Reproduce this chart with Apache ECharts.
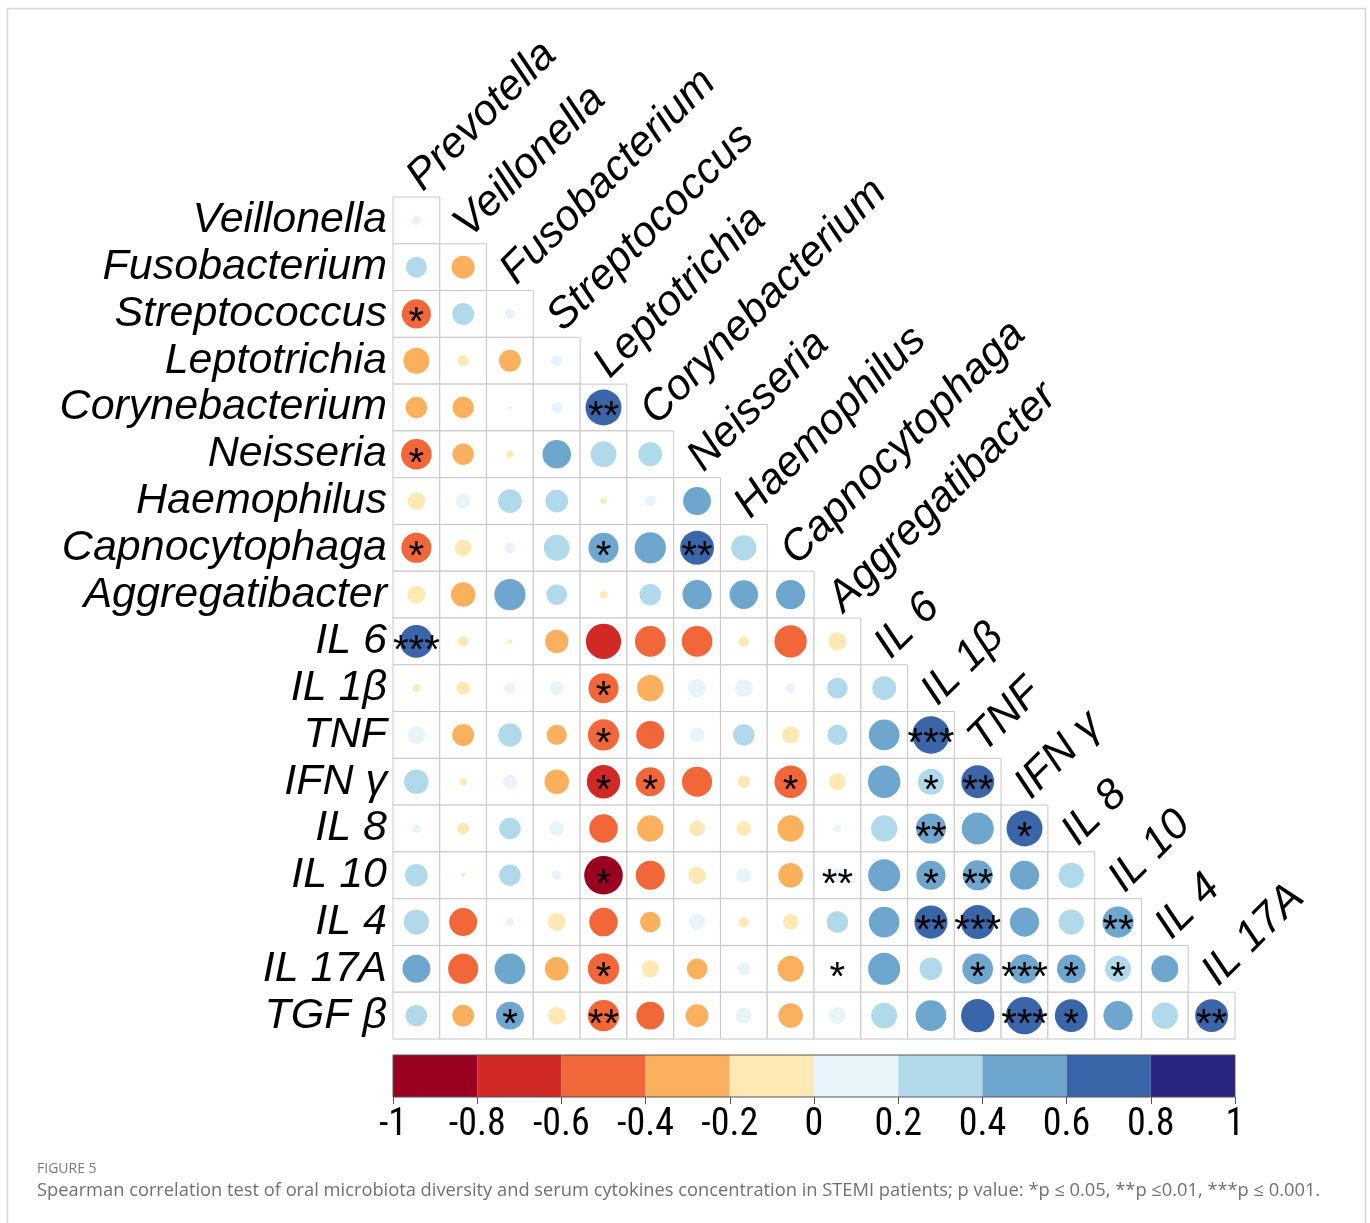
<!DOCTYPE html>
<html>
<head>
<meta charset="utf-8">
<title>Spearman correlation matrix</title>
<script src="https://cdn.jsdelivr.net/npm/echarts@6/dist/echarts.min.js"></script>
<style>
  html, body { margin: 0; padding: 0; background: #ffffff; }
  #chart { width: 1370px; height: 1223px; }
</style>
</head>
<body>
<div id="chart"></div>
<script>
// Row variables (lower triangle) and column variables
const rowNames = ['Veillonella', 'Fusobacterium', 'Streptococcus', 'Leptotrichia', 'Corynebacterium',
  'Neisseria', 'Haemophilus', 'Capnocytophaga', 'Aggregatibacter', 'IL 6', 'IL 1β', 'TNF',
  'IFN γ', 'IL 8', 'IL 10', 'IL 4', 'IL 17A', 'TGF β'];
const colNames = ['Prevotella', 'Veillonella', 'Fusobacterium', 'Streptococcus', 'Leptotrichia',
  'Corynebacterium', 'Neisseria', 'Haemophilus', 'Capnocytophaga', 'Aggregatibacter', 'IL 6',
  'IL 1β', 'TNF', 'IFN γ', 'IL 8', 'IL 10', 'IL 4', 'IL 17A'];

// Spearman r, one list per row (columns 0..row)
const rValues = [
  [0.05],
  [0.25, -0.30],
  [-0.48, 0.27, 0.06],
  [-0.38, -0.07, -0.27, 0.07],
  [-0.26, -0.26, 0.01, 0.07, 0.73],
  [-0.53, -0.26, -0.03, 0.46, 0.38, 0.32],
  [-0.18, 0.12, 0.32, 0.29, -0.02, 0.07, 0.44],
  [-0.51, -0.16, 0.07, 0.38, 0.51, 0.55, 0.65, 0.36],
  [-0.18, -0.34, 0.55, 0.24, -0.03, 0.26, 0.48, 0.46, 0.48],
  [0.61, -0.06, -0.01, -0.31, -0.70, -0.53, -0.53, -0.06, -0.59, -0.19],
  [-0.03, -0.10, 0.07, 0.11, -0.51, -0.39, 0.19, 0.18, 0.05, 0.24, 0.32],
  [0.18, -0.27, 0.31, -0.23, -0.55, -0.44, 0.12, 0.26, -0.17, 0.23, 0.53, 0.79],
  [0.34, -0.03, 0.11, -0.34, -0.63, -0.48, -0.51, -0.09, -0.59, -0.16, 0.59, 0.38, 0.61],
  [0.04, -0.08, 0.26, 0.12, -0.46, -0.39, -0.14, -0.12, -0.39, 0.03, 0.39, 0.51, 0.58, 0.73],
  [0.29, -0.01, 0.26, 0.05, -0.84, -0.48, -0.17, 0.12, -0.34, 0.11, 0.58, 0.48, 0.51, 0.48, 0.36],
  [0.36, -0.44, 0.04, -0.18, -0.46, -0.24, 0.15, -0.06, -0.14, 0.26, 0.53, 0.62, 0.65, 0.48, 0.36, 0.55],
  [0.44, -0.51, 0.53, -0.32, -0.55, -0.17, -0.24, 0.10, -0.38, 0.06, 0.58, 0.29, 0.53, 0.48, 0.46, 0.38, 0.41],
  [0.26, -0.27, 0.44, -0.18, -0.55, -0.44, -0.29, 0.14, -0.34, 0.16, 0.38, 0.53, 0.63, 0.79, 0.61, 0.48, 0.39, 0.61]
];

// Significant pairs: [row, column, number of stars]
const sigCells = [
  [2, 0, 1], [4, 4, 2], [5, 0, 1], [7, 0, 1], [7, 4, 1], [7, 6, 2], [9, 0, 3],
  [10, 4, 1], [11, 4, 1], [11, 11, 3], [12, 4, 1], [12, 5, 1], [12, 8, 1], [12, 11, 1],
  [12, 12, 2], [13, 11, 2], [13, 13, 1], [14, 4, 1], [14, 9, 2], [14, 11, 1], [14, 12, 2],
  [15, 11, 2], [15, 12, 3], [15, 15, 2], [16, 4, 1], [16, 9, 1], [16, 12, 1], [16, 13, 3],
  [16, 14, 1], [16, 15, 1], [17, 2, 1], [17, 4, 2], [17, 13, 3], [17, 14, 1], [17, 17, 2]
];

// Colour scale: ten bins of width 0.2 from -1 to 1
const binEdges = [-1, -0.8, -0.6, -0.4, -0.2, 0, 0.2, 0.4, 0.6, 0.8, 1];
const binColors = ['#9A0020', '#D12A26', '#F26739', '#FBB05E', '#FEE8B3',
  '#E7F4F9', '#B0DAE9', '#6EA6CD', '#3B65A9', '#27257F'];

const LABEL_FONT = 'Liberation Sans';
const TICK_FONT = 'Roboto Condensed';
const CAPTION_FONT = 'Open Sans';

function colorFor(r) {
  for (let k = 0; k < binColors.length; k++) {
    if (r <= binEdges[k + 1]) return binColors[k];
  }
  return binColors[binColors.length - 1];
}

// Flatten the lower triangle into [col, row, r]
const cellData = [];
rValues.forEach((row, i) => row.forEach((r, j) => cellData.push([j, i, r])));

const starData = sigCells.map(s => [s[1], s[0], '*'.repeat(s[2])]);
const diagData = colNames.map((name, j) => [j, j, name]);
const barData = binColors.map((c, k) => [binEdges[k], binEdges[k + 1], k]);

const chart = echarts.init(document.getElementById('chart'), null, { renderer: 'canvas' });

const option = {
  backgroundColor: '#ffffff',
  animation: false,
  grid: [
    { left: 393, top: 197, width: 842, height: 842 },
    { left: 393, top: 1055, width: 842, height: 42 }
  ],
  xAxis: [
    {
      gridIndex: 0, type: 'category', data: colNames, show: false
    },
    {
      gridIndex: 1, type: 'value', min: -1, max: 1, interval: 0.2,
      position: 'bottom',
      axisLine: { show: false },
      axisTick: { show: true, length: 7, lineStyle: { color: '#555', width: 1 } },
      splitLine: { show: false },
      axisLabel: {
        margin: 9, fontSize: 38, color: '#000', fontFamily: TICK_FONT,
        formatter: v => String(Math.round(v * 10) / 10)
      }
    }
  ],
  yAxis: [
    {
      gridIndex: 0, type: 'category', data: rowNames, inverse: true,
      axisLine: { show: false }, axisTick: { show: false }, splitLine: { show: false },
      axisLabel: {
        interval: 0, margin: 6, fontSize: 43, fontStyle: 'italic', color: '#000',
        fontFamily: LABEL_FONT
      }
    },
    { gridIndex: 1, type: 'value', min: 0, max: 1, show: false }
  ],
  series: [
    {
      // cell frames of the lower triangle
      type: 'custom', xAxisIndex: 0, yAxisIndex: 0, clip: false, z: 1,
      data: cellData,
      renderItem: (params, api) => {
        const c = api.coord([api.value(0), api.value(1)]);
        const s = api.size([1, 1]);
        return {
          type: 'rect',
          shape: { x: c[0] - s[0] / 2, y: c[1] - s[1] / 2, width: s[0], height: s[1] },
          style: { fill: '#ffffff', stroke: '#c6c6c6', lineWidth: 1 }
        };
      }
    },
    {
      // circles: area proportional to |r|
      type: 'custom', xAxisIndex: 0, yAxisIndex: 0, clip: false, z: 2,
      data: cellData,
      renderItem: (params, api) => {
        const r = api.value(2);
        const c = api.coord([api.value(0), api.value(1)]);
        const s = api.size([1, 1]);
        return {
          type: 'circle',
          shape: { cx: c[0], cy: c[1], r: 0.45 * Math.sqrt(Math.abs(r)) * s[0] },
          style: { fill: colorFor(r) }
        };
      }
    },
    {
      // significance stars
      type: 'custom', xAxisIndex: 0, yAxisIndex: 0, clip: false, z: 3,
      data: starData,
      renderItem: (params, api) => {
        const item = starData[params.dataIndex];
        const c = api.coord([item[0], item[1]]);
        const s = api.size([1, 1]);
        return {
          type: 'text',
          x: c[0], y: c[1] + s[1] * 0.22,
          style: {
            text: item[2], fontSize: 40, fontFamily: LABEL_FONT, fill: '#000',
            align: 'center', verticalAlign: 'middle'
          }
        };
      }
    },
    {
      // column names, rotated, sitting on top of each diagonal cell
      type: 'custom', xAxisIndex: 0, yAxisIndex: 0, clip: false, z: 3,
      data: diagData,
      renderItem: (params, api) => {
        const item = diagData[params.dataIndex];
        const c = api.coord([item[0], item[1]]);
        const s = api.size([1, 1]);
        return {
          type: 'text',
          x: c[0] + s[0] * 0.28, y: c[1] - s[1] * 0.46,
          rotation: Math.PI / 4,
          style: {
            text: item[2], fontSize: 43, fontStyle: 'italic', fontFamily: LABEL_FONT,
            fill: '#000', align: 'left', verticalAlign: 'bottom'
          }
        };
      }
    },
    {
      // colour bar
      type: 'custom', xAxisIndex: 1, yAxisIndex: 1, clip: false, z: 2,
      data: barData,
      renderItem: (params, api) => {
        const p0 = api.coord([api.value(0), 1]);
        const p1 = api.coord([api.value(1), 0]);
        return {
          type: 'rect',
          shape: { x: p0[0], y: p0[1], width: p1[0] - p0[0], height: p1[1] - p0[1] },
          style: { fill: binColors[api.value(2)], stroke: null }
        };
      }
    },
    {
      // colour bar outline
      type: 'custom', xAxisIndex: 1, yAxisIndex: 1, clip: false, z: 3,
      data: [[-1, 1]],
      renderItem: (params, api) => {
        const p0 = api.coord([-1, 1]);
        const p1 = api.coord([1, 0]);
        return {
          type: 'rect',
          shape: { x: p0[0], y: p0[1], width: p1[0] - p0[0], height: p1[1] - p0[1] },
          style: { fill: null, stroke: '#555', lineWidth: 1 }
        };
      }
    }
  ],
  graphic: [
    {
      type: 'rect', z: 0, silent: true,
      shape: { x: 7.5, y: 8.5, width: 1358, height: 1240 },
      style: { fill: null, stroke: '#d6d6d6', lineWidth: 1.5 }
    },
    {
      type: 'text', left: 37, top: 1162,
      style: { text: 'FIGURE 5', fontSize: 14, fontFamily: CAPTION_FONT, fill: '#7a7a7a' }
    },
    {
      type: 'text', left: 37, top: 1182,
      style: {
        text: 'Spearman correlation test of oral microbiota diversity and serum cytokines concentration in STEMI patients; p value: *p ≤ 0.05, **p ≤0.01, ***p ≤ 0.001.',
        fontSize: 18.3, fontFamily: CAPTION_FONT, fill: '#707070'
      }
    }
  ]
};

chart.setOption(option);
</script>
</body>
</html>
